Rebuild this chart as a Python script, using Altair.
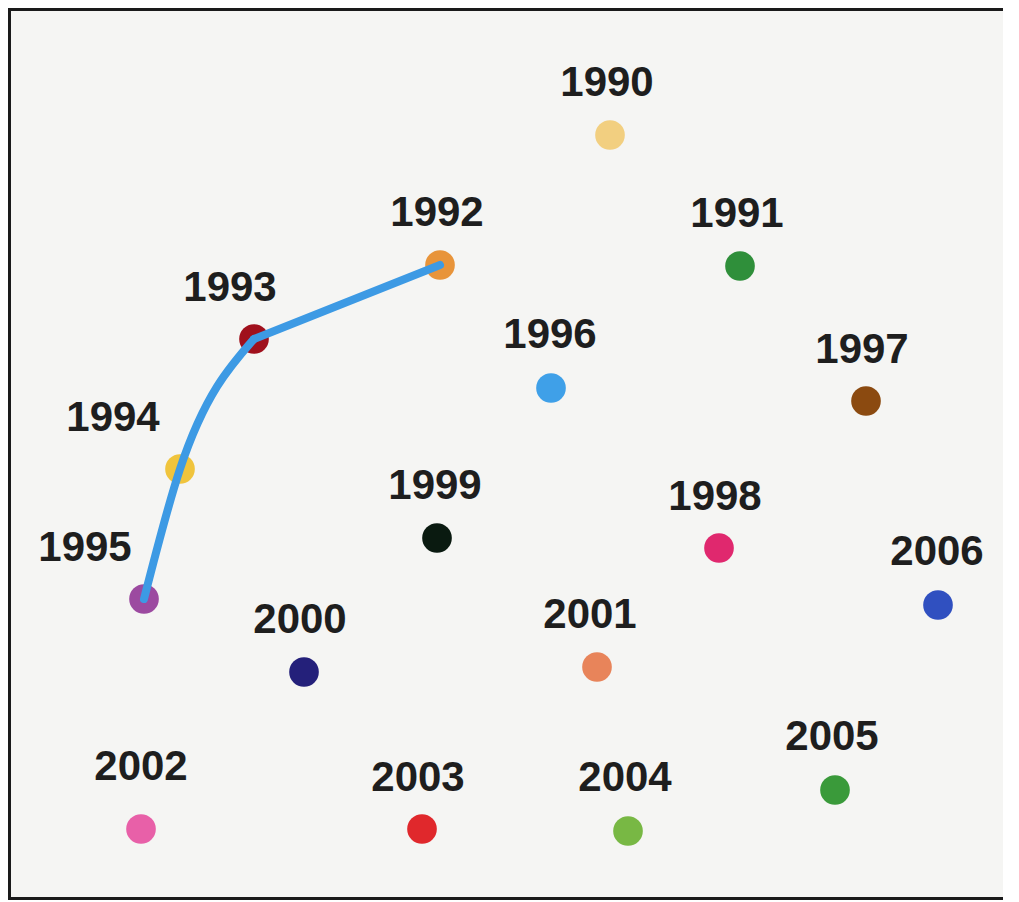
import altair as alt
import pandas as pd

years = ["1990", "1991", "1992", "1993", "1994", "1995", "1996", "1997", "1998",
         "1999", "2000", "2001", "2002", "2003", "2004", "2005", "2006"]
dot_x = [602, 732, 432, 246, 172, 136, 543, 858, 711, 429, 296, 589, 133, 414, 620, 827, 930]
dot_y = [127, 258, 257, 331, 461, 591, 380, 393, 540, 530, 664, 659, 821, 821, 823, 782, 597]
label_x = [599, 729, 429, 222, 105, 77, 542, 854, 707, 427, 292, 582, 133, 410, 617, 824, 929]
label_y = [75, 206, 205, 280, 410, 540, 327, 342, 489, 478, 612, 607, 759, 770, 770, 729, 544]
colors = ["#f2cf80", "#2f8f3a", "#e8943a", "#a0101c", "#f0c43c", "#9c4aa0", "#3fa0e8",
          "#8b4a10", "#e0286e", "#0a1a10", "#24207a", "#e8845a", "#e860a8", "#e0282c",
          "#78b844", "#3a9a3a", "#3050c0"]

# connecting path: straight piece 1992-1993, smooth piece 1993-1995
path_year = ["1992", "1993", "1993", "1994", "1995"]
path_seg = ["a", "a", "b", "b", "b"]
path_order = [0, 1, 2, 3, 4]

W, H = 995, 892

df = pd.DataFrame({"year": years, "x": dot_x, "y": dot_y, "lx": label_x, "ly": label_y})
pos = dict(zip(years, zip(dot_x, dot_y)))
path = pd.DataFrame({
    "year": path_year,
    "seg": path_seg,
    "order": path_order,
    "x": [pos[y][0] for y in path_year],
    "y": [pos[y][1] for y in path_year],
})

xs = alt.Scale(domain=[0, W])
ys = alt.Scale(domain=[0, H], reverse=True)

line = alt.Chart(path).mark_line(
    color="#3d9ae4", strokeWidth=8, interpolate="monotone", strokeCap="round", strokeJoin="round"
).encode(
    x=alt.X("x:Q", scale=xs, axis=None),
    y=alt.Y("y:Q", scale=ys, axis=None),
    detail="seg:N",
    order="order:Q",
)

dots = alt.Chart(df).mark_circle(size=880, opacity=1).encode(
    x=alt.X("x:Q", scale=xs, axis=None),
    y=alt.Y("y:Q", scale=ys, axis=None),
    color=alt.Color("year:N", scale=alt.Scale(domain=years, range=colors), legend=None),
)

labels = alt.Chart(df).mark_text(
    font="Liberation Sans", fontSize=42, fontWeight="bold", color="#1e1e1e",
    align="center", baseline="middle"
).encode(
    x=alt.X("lx:Q", scale=xs, axis=None),
    y=alt.Y("ly:Q", scale=ys, axis=None),
    text="year:N",
)

border = alt.Chart(pd.DataFrame({"k": [0]}))
top = border.mark_rule(color="#1a1a1a", strokeWidth=3).encode(
    x=alt.value(0), x2=alt.value(W), y=alt.value(1.5))
left = border.mark_rule(color="#1a1a1a", strokeWidth=3).encode(
    x=alt.value(1.5), y=alt.value(0), y2=alt.value(H))
bottom = border.mark_rule(color="#1a1a1a", strokeWidth=3).encode(
    x=alt.value(0), x2=alt.value(W), y=alt.value(H - 1.5))

chart = alt.layer(dots, line, labels, top, left, bottom).properties(
    width=W, height=H, padding=0, background="white",
    autosize=alt.AutoSizeParams(type="none"),
).configure_view(
    stroke="transparent", strokeWidth=0, fill="#f5f5f3"
)

chart.save("out.html", embed_options={"renderer": "svg", "actions": False})
